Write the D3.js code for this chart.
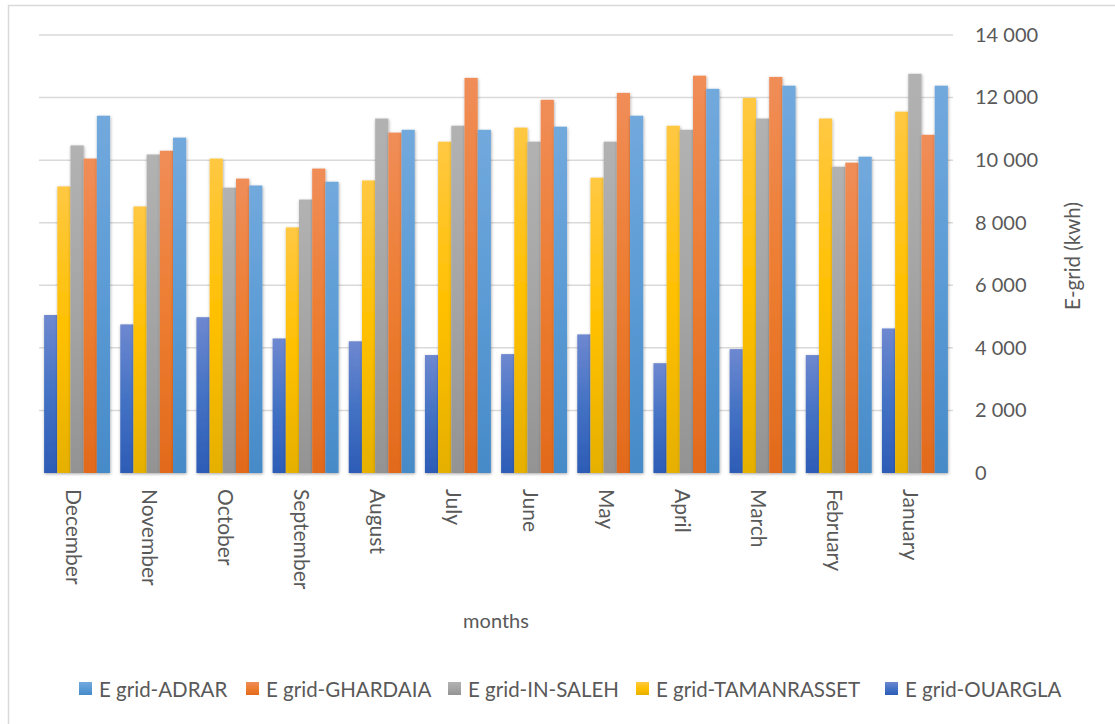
<!DOCTYPE html>
<html>
<head>
<meta charset="utf-8">
<script src="https://cdn.jsdelivr.net/npm/d3@7/dist/d3.min.js"></script>
<style>
  html, body { margin: 0; padding: 0; background: #fff; }
  svg { display: block; }
  text { font-family: Lato, "Noto Sans", sans-serif; fill: #595959; }
</style>
</head>
<body>
<svg id="chart" width="1115" height="724"></svg>
<script>
// Monthly grid energy per site (kWh)
const months = ["December", "November", "October", "September", "August", "July",
                "June", "May", "April", "March", "February", "January"];
const seriesNames = ["E grid-OUARGLA", "E grid-TAMANRASSET", "E grid-IN-SALEH",
                     "E grid-GHARDAIA", "E grid-ADRAR"];
const ouargla     = [5050, 4750, 4980, 4300, 4210, 3770, 3800, 4430, 3510, 3960, 3770, 4620];
const tamanrasset = [9160, 8520, 10050, 7850, 9350, 10590, 11040, 9440, 11100, 11990, 11330, 11550];
const inSaleh     = [10470, 10180, 9120, 8740, 11330, 11100, 10590, 10590, 10970, 11330, 9790, 12760];
const ghardaia    = [10050, 10300, 9410, 9730, 10880, 12630, 11930, 12150, 12700, 12660, 9920, 10810];
const adrar       = [11420, 10720, 9190, 9310, 10970, 10970, 11070, 11420, 12280, 12380, 10110, 12380];
const yTicks = [0, 2000, 4000, 6000, 8000, 10000, 12000, 14000];
const legendOrder = ["E grid-ADRAR", "E grid-GHARDAIA", "E grid-IN-SALEH",
                     "E grid-TAMANRASSET", "E grid-OUARGLA"];

const seriesValues = [ouargla, tamanrasset, inSaleh, ghardaia, adrar];
// gradient stops per series: top, middle, bottom
const palette = {
  "E grid-OUARGLA":     ["#6e88d0", "#4472c4", "#2d5cb6"],
  "E grid-TAMANRASSET": ["#ffc842", "#ffc000", "#e6b000"],
  "E grid-IN-SALEH":    ["#b2b2b2", "#a5a5a5", "#939393"],
  "E grid-GHARDAIA":    ["#f08d58", "#ed7d31", "#e26a1c"],
  "E grid-ADRAR":       ["#72a9dd", "#5b9bd5", "#468ac8"]
};

const svg = d3.select("#chart");
const margin = { left: 39, right: 953, top: 35, bottom: 473 };

const defs = svg.append("defs");
seriesNames.forEach((name, i) => {
  const g = defs.append("linearGradient")
    .attr("id", "grad" + i).attr("x1", 0).attr("y1", 0).attr("x2", 0).attr("y2", 1);
  const c = palette[name];
  g.append("stop").attr("offset", "0%").attr("stop-color", c[0]);
  g.append("stop").attr("offset", "50%").attr("stop-color", c[1]);
  g.append("stop").attr("offset", "100%").attr("stop-color", c[2]);
});
const shadow = defs.append("filter").attr("id", "shadow")
  .attr("x", "-40%").attr("y", "-10%").attr("width", "180%").attr("height", "120%");
shadow.append("feDropShadow").attr("dx", 0.5).attr("dy", 1).attr("stdDeviation", 1.6)
  .attr("flood-color", "#000").attr("flood-opacity", 0.35);

// outer chart frame
svg.append("rect").attr("x", 8.5).attr("y", 5.5).attr("width", 1200).attr("height", 800)
  .attr("fill", "none").attr("stroke", "#d9d9d9").attr("stroke-width", 1.5);

const x0 = d3.scaleBand().domain(months).range([margin.left, margin.right])
  .paddingInner(0.134).paddingOuter(0.067);
const x1 = d3.scaleBand().domain(seriesNames).range([0, x0.bandwidth()]).padding(0);
const y = d3.scaleLinear().domain([0, 14000]).range([margin.bottom, margin.top]);

// gridlines
svg.append("g").selectAll("line").data(yTicks.filter(d => d > 0)).join("line")
  .attr("x1", margin.left).attr("x2", margin.right)
  .attr("y1", d => y(d)).attr("y2", d => y(d))
  .attr("stroke", "#d9d9d9").attr("stroke-width", 1.5);

// right value axis
const yAxis = d3.axisRight(y).tickValues(yTicks).tickSize(0).tickPadding(0)
  .tickFormat(d => d3.format(",")(d).replace(/,/g, "\u00a0"));
const yg = svg.append("g").attr("transform", `translate(975,0)`).call(yAxis);
yg.select(".domain").remove();
yg.selectAll("text").style("font-size", "20px").attr("fill", "#595959")
  .style("font-family", "Lato, sans-serif").attr("x", 0);

// bars
const groups = svg.append("g").selectAll("g").data(months).join("g")
  .attr("transform", d => `translate(${x0(d)},0)`);
groups.selectAll("rect")
  .data((m, mi) => seriesNames.map((s, si) => ({ s, si, v: seriesValues[si][mi] })))
  .join("rect")
  .attr("x", d => x1(d.s))
  .attr("width", x1.bandwidth())
  .attr("y", d => y(d.v))
  .attr("height", d => y(0) - y(d.v))
  .attr("fill", d => `url(#grad${d.si})`)
  .attr("filter", "url(#shadow)");

// category axis
const xAxis = d3.axisBottom(x0).tickSize(0).tickPadding(0);
const xg = svg.append("g").attr("transform", `translate(0,${margin.bottom})`).call(xAxis);
xg.select(".domain").attr("stroke", "#bfbfbf").attr("stroke-width", 1.5)
  .attr("d", `M${margin.left},0H${margin.right}`).attr("filter", "url(#shadow)");
xg.selectAll("text")
  .style("font-size", "21px").style("font-family", "Lato, sans-serif").attr("fill", "#595959")
  .attr("text-anchor", "start").attr("dy", null).attr("y", 0)
  .attr("dominant-baseline", "central")
  .attr("transform", "translate(-3,16) rotate(90)");

// axis titles
svg.append("text").attr("x", 496).attr("y", 628).attr("text-anchor", "middle")
  .style("font-size", "20px").text("months");
svg.append("text").attr("transform", "translate(1072,256) rotate(-90)")
  .attr("text-anchor", "middle").attr("dominant-baseline", "central")
  .style("font-size", "20.5px").text("E-grid (kwh)");

// legend
const legendX = [79, 246, 448, 636, 885];
const lg = svg.append("g").selectAll("g").data(legendOrder).join("g")
  .attr("transform", (d, i) => `translate(${legendX[i]},689)`);
lg.append("rect").attr("x", 0).attr("y", -7).attr("width", 13).attr("height", 13)
  .attr("fill", d => `url(#grad${seriesNames.indexOf(d)})`);
lg.append("text").attr("x", 20).attr("y", 0).attr("dominant-baseline", "central")
  .style("font-size", "20.5px").text(d => d);
</script>
</body>
</html>
